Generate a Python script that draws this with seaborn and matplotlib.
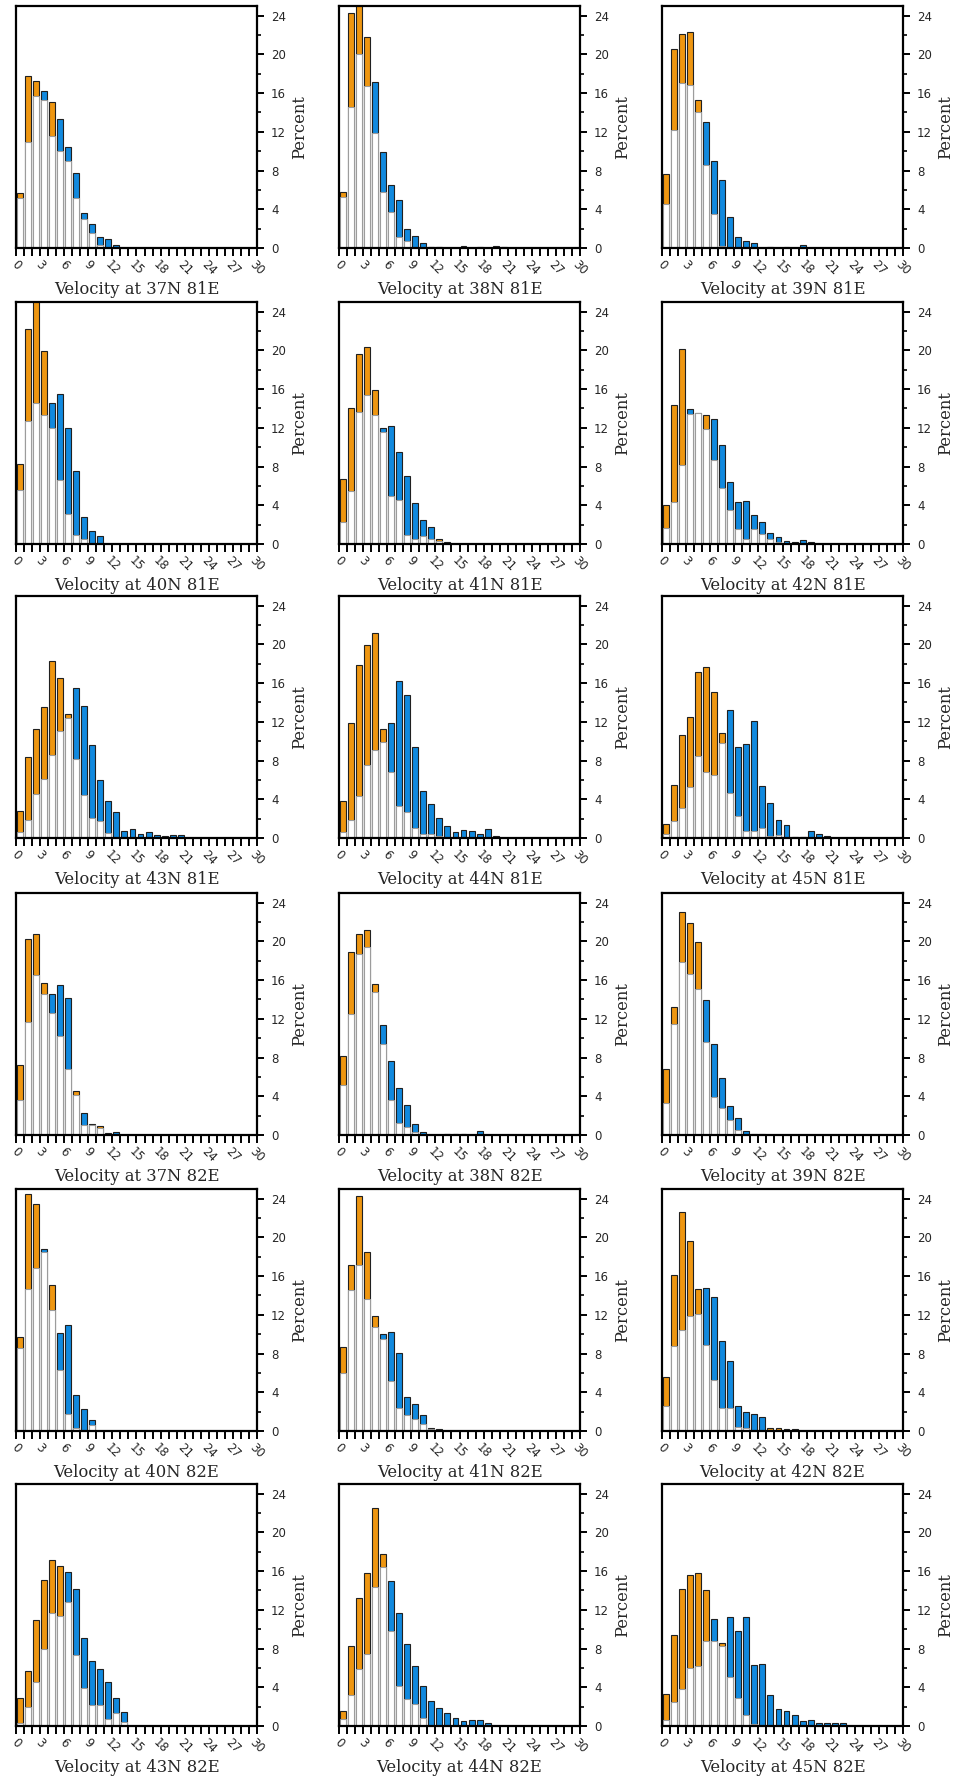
import numpy as np
import pandas as pd
import matplotlib
matplotlib.use("Agg")
import matplotlib.pyplot as plt
import seaborn as sns
from matplotlib.ticker import MultipleLocator

sns.set_theme(style="white")
plt.rcParams["font.family"] = ["DejaVu Serif"]

# Wind-speed bins (m/s), one bar per 1 m/s bin starting at 0
speed_bins = list(range(30))
x_tick_values = list(range(31))
x_tick_labels = [str(v) if v % 3 == 0 else "" for v in x_tick_values]
y_tick_values = [0, 4, 8, 12, 16, 20, 24]

# Frequency (%) per speed bin: series A and series B at each grid point
a_37n_81e = [5.7, 17.8, 17.3, 15.3, 15.1, 10.0, 9.0, 5.2, 3.0, 1.5, 0.3, 0, 0, 0, 0, 0, 0, 0, 0, 0, 0, 0, 0, 0, 0, 0, 0, 0, 0, 0]
b_37n_81e = [5.2, 11.0, 15.7, 16.2, 11.6, 13.3, 10.4, 7.7, 3.6, 2.5, 1.1, 0.9, 0.3, 0, 0, 0, 0, 0, 0, 0, 0, 0, 0, 0, 0, 0, 0, 0, 0, 0]

a_38n_81e = [5.8, 24.3, 25.3, 21.8, 11.9, 5.8, 3.7, 1.1, 0.7, 0, 0.1, 0.1, 0.1, 0, 0, 0, 0, 0.1, 0, 0, 0.1, 0, 0, 0, 0, 0, 0, 0, 0, 0]
b_38n_81e = [5.3, 14.6, 20.0, 16.7, 17.1, 9.9, 6.5, 5.0, 2.0, 1.2, 0.5, 0.1, 0.1, 0, 0, 0.2, 0, 0.1, 0, 0.2, 0.1, 0, 0, 0, 0, 0, 0, 0, 0, 0]

a_39n_81e = [7.6, 20.6, 22.1, 22.3, 15.3, 8.6, 3.5, 0.2, 0, 0, 0, 0, 0, 0.1, 0, 0, 0, 0, 0, 0, 0, 0, 0, 0, 0, 0, 0, 0, 0, 0]
b_39n_81e = [4.5, 12.2, 17.0, 16.8, 14.0, 13.0, 9.0, 7.0, 3.2, 1.1, 0.7, 0.5, 0, 0.1, 0, 0.15, 0, 0.3, 0, 0, 0, 0, 0, 0, 0, 0, 0, 0, 0, 0]

a_40n_81e = [8.3, 22.2, 25.5, 19.9, 12.0, 6.6, 3.1, 0.9, 0.55, 0, 0, 0.05, 0, 0, 0, 0, 0, 0, 0, 0, 0, 0, 0, 0, 0, 0, 0, 0, 0, 0]
b_40n_81e = [5.6, 12.7, 14.6, 13.3, 14.6, 15.5, 12.0, 7.5, 2.8, 1.3, 0.8, 0.05, 0, 0, 0, 0, 0, 0, 0, 0, 0, 0, 0, 0, 0, 0, 0, 0, 0, 0]

a_41n_81e = [6.7, 14.0, 19.6, 20.4, 15.9, 11.6, 5.0, 4.5, 0.9, 0.5, 0.8, 0.5, 0.5, 0, 0, 0, 0, 0, 0, 0, 0, 0, 0, 0, 0, 0, 0, 0, 0, 0]
b_41n_81e = [2.3, 5.5, 13.6, 15.4, 13.3, 12.0, 12.2, 9.5, 7.0, 4.2, 2.5, 1.8, 0.3, 0.2, 0, 0, 0, 0, 0, 0, 0, 0, 0, 0, 0, 0, 0, 0, 0, 0]

a_42n_81e = [4.0, 14.4, 20.1, 13.4, 13.5, 13.3, 8.7, 5.8, 3.5, 1.5, 0.5, 1.5, 1.0, 0.5, 0.25, 0.1, 0, 0, 0, 0, 0, 0, 0, 0, 0, 0, 0, 0, 0, 0]
b_42n_81e = [1.7, 4.3, 8.2, 13.9, 13.5, 11.9, 12.9, 10.2, 6.4, 4.3, 4.4, 3.0, 2.3, 1.1, 0.75, 0.35, 0.2, 0.4, 0.2, 0, 0, 0, 0, 0, 0, 0, 0, 0, 0, 0]

a_43n_81e = [2.8, 8.4, 11.3, 13.5, 18.3, 16.5, 12.8, 8.2, 4.4, 2.1, 1.8, 0.5, 0, 0, 0, 0, 0, 0, 0, 0, 0, 0, 0, 0, 0, 0, 0, 0, 0, 0]
b_43n_81e = [0.6, 1.9, 4.5, 6.1, 8.6, 11.1, 12.4, 15.5, 13.6, 9.6, 6.0, 3.8, 2.7, 0.75, 0.9, 0.45, 0.65, 0.35, 0.25, 0.35, 0.35, 0, 0, 0, 0, 0, 0, 0, 0, 0]

a_44n_81e = [3.8, 11.9, 17.9, 19.9, 21.2, 11.3, 6.8, 3.3, 2.7, 1.0, 0.4, 0.4, 0.2, 0, 0, 0, 0, 0, 0, 0, 0, 0, 0, 0, 0, 0, 0, 0, 0, 0]
b_44n_81e = [0.6, 1.9, 4.3, 7.5, 9.1, 9.9, 11.9, 16.2, 14.8, 9.4, 4.9, 3.5, 2.1, 1.2, 0.6, 0.85, 0.7, 0.45, 0.95, 0.25, 0, 0, 0, 0, 0, 0, 0, 0, 0, 0]

a_45n_81e = [1.45, 5.5, 10.6, 12.55, 17.15, 17.7, 15.05, 10.8, 4.65, 2.3, 0.75, 0.75, 1.0, 0.2, 0.3, 0, 0.1, 0.1, 0, 0, 0, 0, 0, 0, 0, 0, 0, 0, 0, 0]
b_45n_81e = [0.4, 1.75, 3.05, 5.3, 8.5, 6.8, 6.5, 9.8, 13.25, 9.45, 9.75, 12.05, 5.4, 3.65, 1.9, 1.3, 0.1, 0.1, 0.7, 0.45, 0.2, 0, 0, 0, 0, 0, 0, 0, 0, 0]

a_37n_82e = [7.2, 20.2, 20.8, 15.7, 12.6, 10.2, 6.8, 4.55, 1.0, 1.1, 0.9, 0.05, 0, 0, 0, 0, 0, 0, 0, 0, 0, 0, 0, 0, 0, 0, 0, 0, 0, 0]
b_37n_82e = [3.65, 11.7, 16.5, 14.55, 14.6, 15.5, 14.2, 4.1, 2.3, 1.05, 0.7, 0.2, 0.3, 0, 0, 0, 0, 0, 0, 0, 0, 0, 0, 0, 0, 0, 0, 0, 0, 0]

a_38n_82e = [8.15, 18.9, 20.75, 21.2, 15.55, 9.4, 3.6, 1.2, 0.8, 0.3, 0, 0, 0, 0.1, 0.1, 0.1, 0, 0, 0, 0, 0, 0, 0, 0, 0, 0, 0, 0, 0, 0]
b_38n_82e = [5.2, 12.5, 18.7, 19.4, 14.8, 11.4, 7.6, 4.9, 3.1, 1.1, 0.3, 0, 0, 0.1, 0.1, 0.1, 0, 0.4, 0, 0, 0, 0, 0, 0, 0, 0, 0, 0, 0, 0]

a_39n_82e = [6.8, 13.25, 23.05, 21.85, 19.9, 9.65, 3.95, 2.8, 1.5, 0.5, 0, 0, 0, 0, 0, 0, 0, 0, 0, 0, 0, 0, 0, 0, 0, 0, 0, 0, 0, 0]
b_39n_82e = [3.35, 11.45, 17.9, 16.65, 15.1, 13.95, 9.45, 5.85, 2.95, 1.75, 0.4, 0.15, 0.15, 0, 0, 0, 0, 0, 0, 0, 0, 0, 0, 0, 0, 0, 0, 0, 0, 0]

a_40n_82e = [9.7, 24.5, 23.4, 18.5, 15.05, 6.3, 1.8, 0.3, 0.15, 0.6, 0, 0, 0, 0, 0, 0, 0, 0, 0, 0, 0, 0, 0, 0, 0, 0, 0, 0, 0, 0]
b_40n_82e = [8.6, 14.7, 16.85, 18.85, 12.5, 10.1, 10.9, 3.7, 2.3, 1.1, 0, 0, 0, 0, 0, 0, 0, 0, 0, 0, 0, 0, 0, 0, 0, 0, 0, 0, 0, 0]

a_41n_82e = [8.65, 17.2, 24.3, 18.5, 11.85, 9.5, 5.2, 2.4, 1.7, 1.2, 0.7, 0.35, 0.1, 0, 0, 0, 0, 0, 0, 0, 0, 0, 0, 0, 0, 0, 0, 0, 0, 0]
b_41n_82e = [6.0, 14.6, 17.2, 13.65, 10.7, 10.0, 10.2, 8.1, 3.55, 2.8, 1.65, 0.2, 0.25, 0, 0, 0, 0, 0, 0, 0, 0, 0, 0, 0, 0, 0, 0, 0, 0, 0]

a_42n_82e = [5.6, 16.1, 22.6, 19.65, 14.65, 8.9, 5.3, 2.4, 2.4, 0.4, 0.3, 0, 0, 0.3, 0.35, 0, 0, 0.05, 0, 0, 0, 0, 0, 0, 0, 0, 0, 0, 0, 0]
b_42n_82e = [2.55, 8.8, 10.4, 11.9, 12.1, 14.75, 13.8, 9.3, 7.2, 2.55, 2.0, 1.75, 1.4, 0.1, 0.1, 0.2, 0.2, 0.05, 0, 0, 0, 0, 0, 0, 0, 0, 0, 0, 0, 0]

a_43n_82e = [2.9, 5.7, 10.9, 15.05, 17.1, 16.55, 12.85, 7.3, 3.9, 2.2, 2.2, 0.7, 1.3, 0.4, 0.05, 0, 0, 0, 0, 0, 0, 0, 0, 0, 0, 0, 0, 0, 0, 0]
b_43n_82e = [0.35, 2.0, 4.55, 8.0, 11.7, 11.4, 15.9, 14.15, 9.1, 6.75, 5.85, 4.5, 2.9, 1.4, 0.05, 0, 0, 0, 0, 0, 0, 0, 0, 0, 0, 0, 0, 0, 0, 0]

a_44n_82e = [1.55, 8.25, 13.25, 15.8, 22.5, 17.8, 9.85, 4.15, 2.8, 2.3, 0.85, 0, 0, 0, 0, 0, 0, 0, 0, 0, 0, 0, 0, 0, 0, 0, 0, 0, 0, 0]
b_44n_82e = [0.75, 3.25, 5.85, 7.4, 14.4, 16.45, 15.0, 11.7, 8.45, 6.25, 4.15, 2.6, 1.85, 1.3, 0.85, 0.55, 0.6, 0.6, 0.35, 0, 0, 0, 0, 0, 0, 0, 0, 0, 0, 0]

a_45n_82e = [3.35, 9.45, 14.2, 15.65, 15.8, 14.1, 8.8, 8.55, 5.1, 2.9, 1.15, 0.25, 0.1, 0, 0, 0, 0, 0, 0, 0, 0, 0, 0, 0, 0, 0, 0, 0, 0, 0]
b_45n_82e = [0.6, 2.5, 3.8, 6.0, 6.2, 8.75, 11.05, 8.25, 11.25, 9.8, 11.25, 6.35, 6.45, 3.2, 1.75, 1.5, 1.15, 0.5, 0.65, 0.35, 0.3, 0.3, 0.3, 0.05, 0, 0, 0, 0, 0, 0]

panels = [
    ("37N 81E", a_37n_81e, b_37n_81e), ("38N 81E", a_38n_81e, b_38n_81e), ("39N 81E", a_39n_81e, b_39n_81e),
    ("40N 81E", a_40n_81e, b_40n_81e), ("41N 81E", a_41n_81e, b_41n_81e), ("42N 81E", a_42n_81e, b_42n_81e),
    ("43N 81E", a_43n_81e, b_43n_81e), ("44N 81E", a_44n_81e, b_44n_81e), ("45N 81E", a_45n_81e, b_45n_81e),
    ("37N 82E", a_37n_82e, b_37n_82e), ("38N 82E", a_38n_82e, b_38n_82e), ("39N 82E", a_39n_82e, b_39n_82e),
    ("40N 82E", a_40n_82e, b_40n_82e), ("41N 82E", a_41n_82e, b_41n_82e), ("42N 82E", a_42n_82e, b_42n_82e),
    ("43N 82E", a_43n_82e, b_43n_82e), ("44N 82E", a_44n_82e, b_44n_82e), ("45N 82E", a_45n_82e, b_45n_82e),
]

ORANGE = "#EE9611"
BLUE = "#1189DE"

W, H = 958, 1780
fig = plt.figure(figsize=(W / 100, H / 100), dpi=100)
fig.patch.set_facecolor("white")

col_left = [16, 339, 662]
row_top = [6, 302, 596, 893, 1189, 1484]
ax_w, ax_h = 241, 242

for k, (site, a_vals, b_vals) in enumerate(panels):
    r, c = divmod(k, 3)
    ax = fig.add_axes([col_left[c] / W, 1 - (row_top[r] + ax_h) / H, ax_w / W, ax_h / H])
    ax.patch.set_alpha(0)

    a = np.array(a_vals, dtype=float)
    b = np.array(b_vals, dtype=float)
    df = pd.DataFrame({
        "speed": np.array(speed_bins) + 0.5,
        "top": np.maximum(a, b),
        "low": np.minimum(a, b),
        "lead": np.where(a >= b, "A", "B"),
    })

    # full bar coloured by which series is larger, white overlay up to the smaller one
    sns.barplot(data=df, x="speed", y="top", hue="lead", hue_order=["A", "B"],
                palette={"A": ORANGE, "B": BLUE}, dodge=False, native_scale=True,
                width=0.74, edgecolor="#202020", linewidth=0.8, saturation=1,
                errorbar=None, legend=False, ax=ax)
    sns.barplot(data=df, x="speed", y="low", color="white", native_scale=True,
                width=0.74, edgecolor="#9c9c9c", linewidth=0.8, saturation=1,
                errorbar=None, ax=ax)

    ax.set_xlim(0, 30)
    ax.set_ylim(0, 25)

    ax.set_xticks(x_tick_values)
    ax.set_xticklabels(x_tick_labels, rotation=-45, ha="center", fontsize=8.5,
                       family="DejaVu Sans")
    ax.tick_params(axis="x", which="major", direction="out", length=5.5, width=1.4,
                   color="black", pad=2, bottom=True)

    ax.yaxis.tick_right()
    ax.yaxis.set_label_position("right")
    ax.set_yticks(y_tick_values)
    ax.set_yticklabels([str(v) for v in y_tick_values], fontsize=8.5, family="DejaVu Sans")
    ax.yaxis.set_minor_locator(MultipleLocator(2))
    ax.tick_params(axis="y", which="major", direction="out", length=5, width=1.4,
                   color="black", pad=5, right=True, left=False)
    ax.tick_params(axis="y", which="minor", direction="out", length=3, width=1.2,
                   color="black", right=True, left=False)

    ax.set_ylabel("Percent", fontsize=11.8)
    ax.yaxis.set_label_coords(1 + 34 / ax_w, 0.5)
    ax.set_xlabel(f"Velocity at {site}", fontsize=11.8, va="top")
    ax.xaxis.set_label_coords(0.5, -33 / ax_h)

    for s in ax.spines.values():
        s.set_visible(True)
        s.set_color("black")
        s.set_linewidth(1.6)

fig.savefig("out.png", dpi=100, facecolor="white")
